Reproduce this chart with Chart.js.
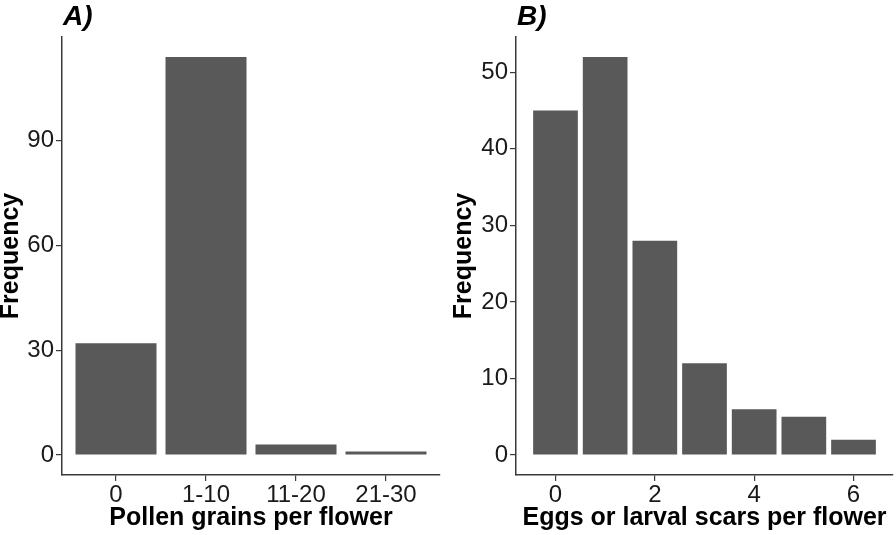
<!DOCTYPE html>
<html>
<head>
<meta charset="utf-8">
<script src="https://cdn.jsdelivr.net/npm/chart.js@4"></script>
<style>
  body { margin: 0; background: #fff; }
  .panel { position: absolute; top: 0; width: 448px; height: 535px; }
</style>
</head>
<body>
<div class="panel" style="left:0"><canvas id="pollenChart" width="448" height="535"></canvas></div>
<div class="panel" style="left:448px"><canvas id="eggsChart" width="448" height="535"></canvas></div>
<script>
// panel A: pollen grains per flower
const pollenCats = ['0', '1-10', '11-20', '21-30'];
const pollenFreq = [32, 114, 3, 1];
const pollenYTicks = [0, 30, 60, 90];

// panel B: eggs or larval scars per flower
const eggsCounts = [0, 1, 2, 3, 4, 5, 6];
const eggsFreq = [45, 52, 28, 12, 6, 5, 2];
const eggsXTicks = [0, 2, 4, 6];
const eggsYTicks = [0, 10, 20, 30, 40, 50];

const barColor = '#595959';
const axisColor = '#3a3a3a';
const textColor = '#1a1a1a';

Chart.defaults.font.family = '"Liberation Sans", Arial, sans-serif';
Chart.defaults.color = textColor;

// panel letter (A), B)) drawn above the plot
const panelLabel = {
    id: 'panelLabel',
    afterDraw(chart, args, opts) {
        const ctx = chart.ctx;
        ctx.save();
        ctx.font = 'italic bold 28px "Liberation Sans", Arial, sans-serif';
        ctx.fillStyle = '#000';
        ctx.textBaseline = 'alphabetic';
        ctx.textAlign = 'left';
        ctx.fillText(opts.text, chart.chartArea.left + 1, 25);
        ctx.restore();
    }
};

function axisStyle() {
    return {
        offset: false,
        border: { display: true, color: axisColor, width: 1.5 },
        grid: { offset: false, drawOnChartArea: false, drawTicks: true, tickLength: 6, color: axisColor, lineWidth: 1.2 }
    };
}

function makeChart(canvasId, xs, ys, opt) {
    const ctx = document.getElementById(canvasId).getContext('2d');
    return new Chart(ctx, {
        type: 'bar',
        data: {
            datasets: [{
                data: xs.map((x, i) => ({ x: x, y: ys[i] })),
                backgroundColor: barColor,
                borderWidth: 0,
                barPercentage: 0.9,
                categoryPercentage: 1.0
            }]
        },
        options: {
            responsive: false,
            animation: false,
            layout: { padding: { left: 0, top: 37, right: opt.padRight, bottom: 0 } },
            plugins: {
                legend: { display: false },
                tooltip: { enabled: false },
                panelLabel: { text: opt.label }
            },
            scales: {
                x: Object.assign(axisStyle(), {
                    type: 'linear',
                    min: opt.xMin,
                    max: opt.xMax,
                    afterBuildTicks: s => { s.ticks = opt.xTicks.map(v => ({ value: v })); },
                    afterFit: s => { s.height = 60; },
                    ticks: {
                        font: { size: 24 },
                        color: textColor,
                        padding: 0,
                        maxRotation: 0,
                        autoSkip: false,
                        callback: opt.xLabel
                    },
                    title: {
                        display: true,
                        text: opt.xTitle,
                        color: '#000',
                        font: { size: 25, weight: 'bold', lineHeight: 1.2 },
                        padding: { top: 0, bottom: 2 }
                    }
                }),
                y: Object.assign(axisStyle(), {
                    type: 'linear',
                    min: opt.yMin,
                    max: opt.yMax,
                    afterBuildTicks: s => { s.ticks = opt.yTicks.map(v => ({ value: v })); },
                    afterFit: s => { s.width = opt.yWidth; },
                    ticks: { font: { size: 24 }, color: textColor, padding: 2 },
                    title: {
                        display: true,
                        text: 'Frequency',
                        color: '#000',
                        font: { size: 25, weight: 'bold', lineHeight: 0.9 },
                        padding: { top: opt.yTitlePad, bottom: 0 }
                    }
                })
            }
        },
        plugins: [panelLabel]
    });
}

makeChart('pollenChart', pollenCats.map((c, i) => i), pollenFreq, {
    label: 'A)',
    padRight: 8,
    yWidth: 62,
    yTitlePad: 0,
    xMin: -0.6, xMax: 3.6,
    xTicks: pollenCats.map((c, i) => i),
    xLabel: v => pollenCats[v],
    xTitle: 'Pollen grains per flower',
    yMin: -5.7, yMax: 119.7,
    yTicks: pollenYTicks
});

makeChart('eggsChart', eggsCounts, eggsFreq, {
    label: 'B)',
    padRight: 3,
    yWidth: 68,
    yTitlePad: 5,
    xMin: -0.795, xMax: 6.795,
    xTicks: eggsXTicks,
    xLabel: v => String(v),
    xTitle: 'Eggs or larval scars per flower',
    yMin: -2.6, yMax: 54.6,
    yTicks: eggsYTicks
});
</script>
</body>
</html>
